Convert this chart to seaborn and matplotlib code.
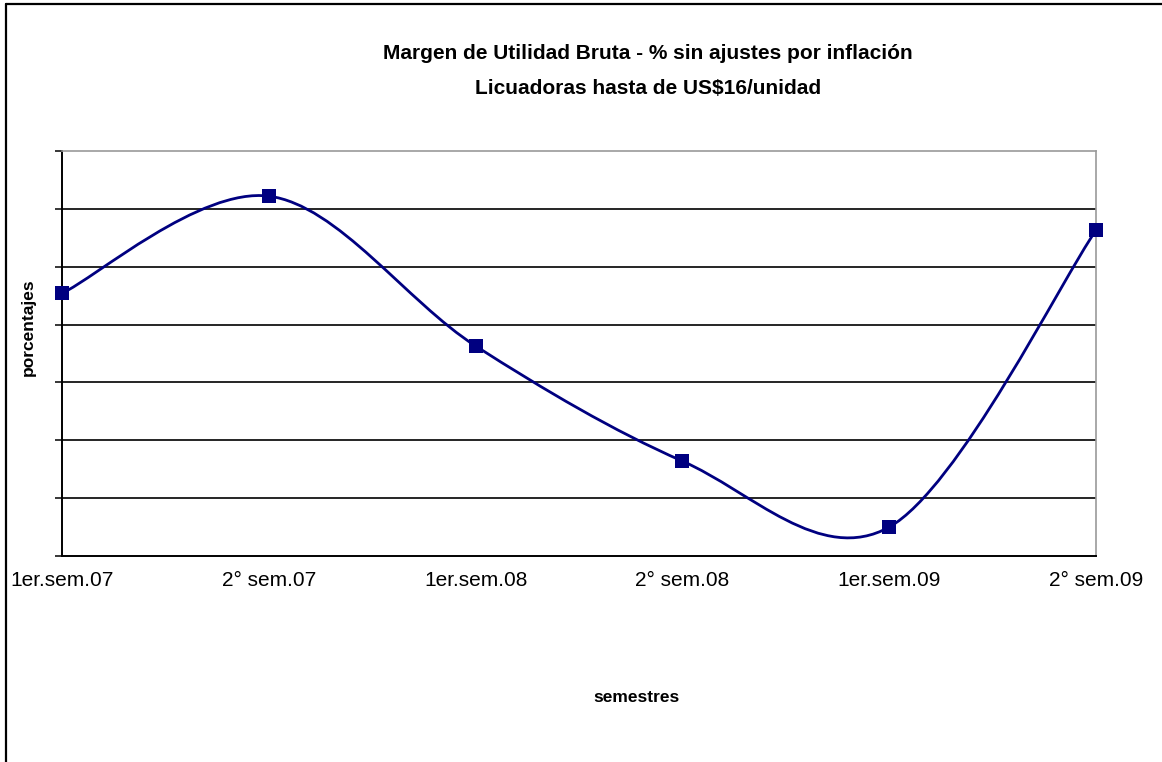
import numpy as np
import pandas as pd
import matplotlib
matplotlib.use("Agg")
import matplotlib.pyplot as plt
from matplotlib.path import Path
from matplotlib.patches import PathPatch
from matplotlib.lines import Line2D
import seaborn as sns

# ------------------------------------------------------------
# Data (y axis has no labels, 0-35 scale)
# ------------------------------------------------------------
semestres = ["1er.sem.07", "2° sem.07", "1er.sem.08", "2° sem.08", "1er.sem.09", "2° sem.09"]
margen = [22.7, 31.1, 18.15, 8.2, 2.5, 28.15]
y_ticks = [0, 5, 10, 15, 20, 25, 30, 35]

title = "Margen de Utilidad Bruta - % sin ajustes por inflación\nLicuadoras hasta de US$16/unidad"

df = pd.DataFrame({"pos": range(len(semestres)), "margen": margen})

sns.set_style("white")
plt.rcParams["font.family"] = ["Liberation Sans", "DejaVu Sans"]
plt.rcParams["text.color"] = "black"
plt.rcParams["xtick.color"] = "black"
plt.rcParams["ytick.color"] = "black"

NAVY = "#000080"
W, H = 1162, 762
fig = plt.figure(figsize=(W / 100, H / 100), dpi=100)
ax = fig.add_axes([62 / W, 1 - 556 / H, (1096 - 62) / W, (556 - 151) / H])

# ------------------------------------------------------------
# Smoothed line (Excel style bezier through the points)
# ------------------------------------------------------------
pts = df[["pos", "margen"]].to_numpy(dtype=float)
n = len(pts)
verts = [tuple(pts[0])]
codes = [Path.MOVETO]
for i in range(n - 1):
    p_prev = pts[max(i - 1, 0)]
    p0 = pts[i]
    p1 = pts[i + 1]
    p_next = pts[min(i + 2, n - 1)]
    c1 = p0 + (p1 - p_prev) / 6.0
    c2 = p1 - (p_next - p0) / 6.0
    verts += [tuple(c1), tuple(c2), tuple(p1)]
    codes += [Path.CURVE4] * 3
ax.add_patch(PathPatch(Path(verts, codes), facecolor="none", edgecolor=NAVY,
                       lw=2.0, zorder=3, capstyle="round", joinstyle="round"))

sns.scatterplot(data=df, x="pos", y="margen", marker="s", s=110, color=NAVY,
                edgecolor=NAVY, linewidth=0, zorder=4, ax=ax, clip_on=False)

# ------------------------------------------------------------
# Axes styling
# ------------------------------------------------------------
ax.set_xlim(0, len(semestres) - 1)
ax.set_ylim(y_ticks[0], y_ticks[-1])
ax.set_xticks(range(len(semestres)))
ax.set_xticklabels(semestres, fontsize=15)
ax.set_yticks(y_ticks)
ax.set_yticklabels([])
ax.yaxis.grid(True, color="black", lw=1.2)
ax.get_ygridlines()[0].set_visible(False)
ax.get_ygridlines()[-1].set_visible(False)
ax.tick_params(axis="x", direction="out", length=6, width=1.1, color="black", pad=5)
ax.tick_params(axis="y", direction="out", length=5, width=1.1, color="black", left=True)
for side in ["left", "bottom"]:
    ax.spines[side].set_color("black")
    ax.spines[side].set_linewidth(1.4)
for side in ["top", "right"]:
    ax.spines[side].set_color("#999999")
    ax.spines[side].set_linewidth(1.2)
ax.set_xlabel("")
ax.set_ylabel("")

# Titles / labels
fig.text(648 / W, 1 - 71 / H, title, ha="center", va="center", fontsize=15,
         fontweight="bold", linespacing=2.05)
fig.text(636 / W, 1 - 697 / H, "semestres", ha="center", va="center", fontsize=12.5,
         fontweight="bold")
fig.text(28 / W, 1 - 327 / H, "porcentajes", ha="center", va="center", fontsize=12.5,
         fontweight="bold", rotation=90)

# Outer chart frame (cut off at right and bottom)
fig.add_artist(Line2D([6 / W, 6 / W], [0, 1 - 4 / H], color="black", lw=1.6))
fig.add_artist(Line2D([6 / W, 1], [1 - 4 / H, 1 - 4 / H], color="black", lw=1.6))

fig.savefig("out.png", dpi=100)
